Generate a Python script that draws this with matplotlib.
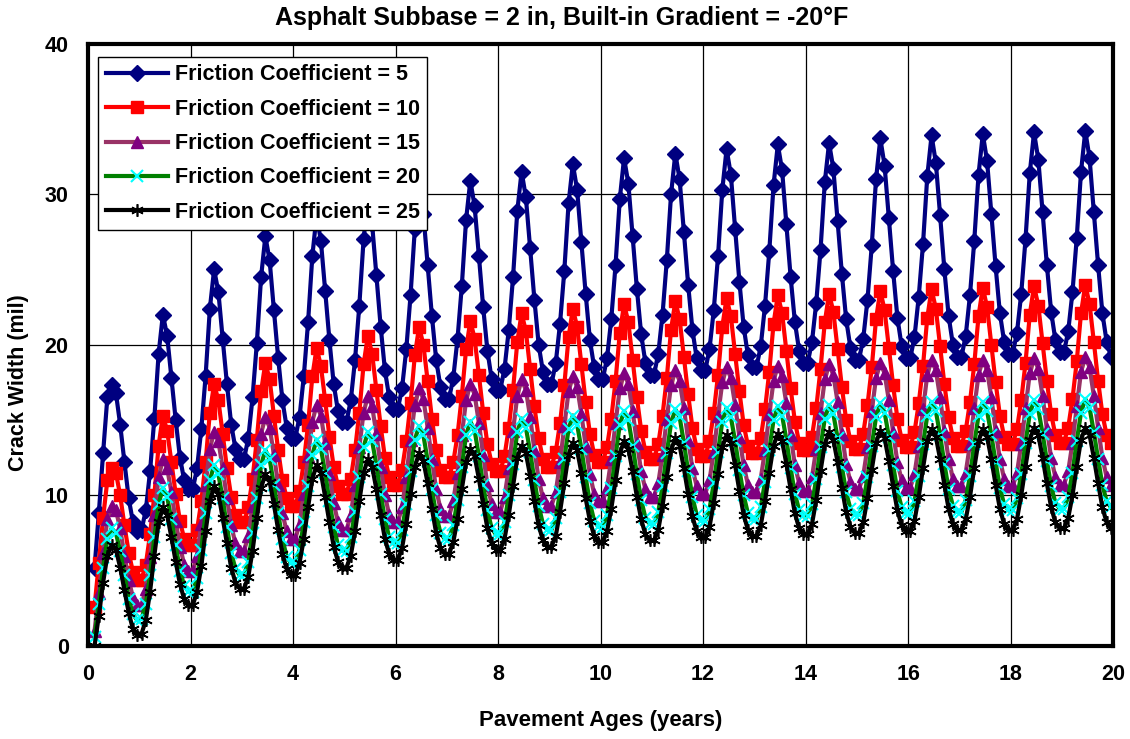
import numpy as np
import matplotlib
matplotlib.use('Agg')
import matplotlib.pyplot as plt

# monthly readings, one row per year (year 0 starts at the 2nd month)
fc5 = [
    [5.2, 8.8, 12.8, 16.5, 17.3, 16.8, 14.7, 12.2, 9.8, 8.2, 7.6],
    [7.7, 9.0, 11.6, 15.1, 19.4, 22.0, 20.6, 17.8, 15.0, 12.5, 11.0, 10.4],
    [10.4, 11.8, 14.4, 17.9, 22.4, 25.0, 23.5, 20.4, 17.4, 14.7, 13.1, 12.4],
    [12.4, 13.8, 16.5, 20.1, 24.5, 27.2, 25.6, 22.3, 19.1, 16.3, 14.5, 13.8],
    [13.8, 15.2, 17.9, 21.5, 25.9, 28.6, 26.9, 23.6, 20.3, 17.4, 15.6, 14.9],
    [14.9, 16.3, 19.0, 22.6, 27.0, 29.7, 28.0, 24.6, 21.2, 18.3, 16.5, 15.7],
    [15.7, 17.1, 19.7, 23.3, 27.7, 30.4, 28.7, 25.3, 21.9, 19.0, 17.2, 16.4],
    [16.4, 17.8, 20.4, 23.9, 28.3, 30.9, 29.2, 25.9, 22.5, 19.6, 17.7, 17.0],
    [17.0, 18.4, 21.0, 24.5, 28.9, 31.5, 29.8, 26.4, 23.0, 20.0, 18.2, 17.4],
    [17.4, 18.8, 21.4, 24.9, 29.4, 32.0, 30.3, 26.8, 23.4, 20.3, 18.5, 17.7],
    [17.7, 19.1, 21.7, 25.3, 29.7, 32.4, 30.7, 27.2, 23.7, 20.7, 18.8, 18.0],
    [18.0, 19.4, 22.0, 25.6, 30.0, 32.7, 31.0, 27.5, 24.0, 21.0, 19.1, 18.3],
    [18.3, 19.7, 22.3, 25.9, 30.3, 33.0, 31.3, 27.7, 24.2, 21.2, 19.3, 18.5],
    [18.5, 19.9, 22.6, 26.2, 30.6, 33.3, 31.6, 28.0, 24.5, 21.5, 19.6, 18.8],
    [18.8, 20.2, 22.8, 26.3, 30.8, 33.4, 31.7, 28.2, 24.7, 21.7, 19.8, 19.0],
    [19.0, 20.4, 23.0, 26.6, 31.0, 33.7, 31.9, 28.4, 24.9, 21.8, 19.9, 19.1],
    [19.1, 20.5, 23.2, 26.7, 31.2, 33.9, 32.1, 28.6, 25.0, 21.9, 20.0, 19.2],
    [19.2, 20.6, 23.3, 26.9, 31.3, 34.0, 32.2, 28.7, 25.2, 22.1, 20.2, 19.4],
    [19.4, 20.8, 23.4, 27.0, 31.4, 34.1, 32.3, 28.8, 25.3, 22.2, 20.3, 19.5],
    [19.5, 20.9, 23.5, 27.1, 31.5, 34.2, 32.4, 28.8, 25.3, 22.1, 20.2, 19.2],
]
fc10 = [
    [2.6, 5.5, 8.5, 11.0, 11.8, 11.5, 10.0, 8.0, 6.2, 4.9, 4.4],
    [4.4, 5.4, 7.4, 10.0, 13.3, 15.3, 14.3, 12.2, 10.1, 8.3, 7.1, 6.7],
    [6.7, 7.7, 9.6, 12.2, 15.5, 17.4, 16.3, 14.1, 11.8, 9.9, 8.7, 8.2],
    [8.2, 9.2, 11.1, 13.7, 16.9, 18.8, 17.7, 15.3, 13.0, 11.0, 9.8, 9.3],
    [9.3, 10.3, 12.2, 14.7, 17.9, 19.8, 18.6, 16.3, 13.9, 11.9, 10.6, 10.1],
    [10.1, 11.1, 13.0, 15.5, 18.7, 20.6, 19.4, 17.0, 14.6, 12.5, 11.2, 10.7],
    [10.7, 11.7, 13.6, 16.1, 19.3, 21.2, 20.0, 17.6, 15.1, 13.0, 11.7, 11.2],
    [11.2, 12.2, 14.0, 16.6, 19.7, 21.6, 20.4, 18.0, 15.5, 13.4, 12.1, 11.6],
    [11.6, 12.6, 14.5, 17.0, 20.2, 22.1, 20.9, 18.4, 15.9, 13.8, 12.4, 11.9],
    [11.9, 12.9, 14.8, 17.3, 20.5, 22.4, 21.2, 18.7, 16.2, 14.1, 12.7, 12.2],
    [12.2, 13.2, 15.1, 17.6, 20.8, 22.7, 21.5, 19.0, 16.5, 14.3, 12.9, 12.4],
    [12.4, 13.4, 15.3, 17.8, 21.0, 22.9, 21.7, 19.2, 16.7, 14.5, 13.1, 12.6],
    [12.6, 13.6, 15.5, 18.0, 21.2, 23.1, 21.9, 19.4, 16.9, 14.7, 13.3, 12.8],
    [12.8, 13.8, 15.7, 18.2, 21.4, 23.3, 22.1, 19.6, 17.1, 14.9, 13.5, 13.0],
    [13.0, 13.9, 15.8, 18.4, 21.5, 23.4, 22.2, 19.7, 17.2, 15.0, 13.6, 13.1],
    [13.1, 14.1, 16.0, 18.5, 21.7, 23.6, 22.3, 19.8, 17.3, 15.1, 13.7, 13.2],
    [13.2, 14.2, 16.1, 18.6, 21.8, 23.7, 22.4, 19.9, 17.4, 15.2, 13.8, 13.3],
    [13.3, 14.3, 16.2, 18.7, 21.9, 23.8, 22.5, 20.0, 17.5, 15.3, 13.9, 13.4],
    [13.4, 14.4, 16.3, 18.8, 22.0, 23.9, 22.6, 20.1, 17.6, 15.4, 14.0, 13.5],
    [13.5, 14.5, 16.4, 18.9, 22.1, 24.0, 22.7, 20.2, 17.6, 15.4, 14.0, 13.5],
]
fc15 = [
    [1.0, 3.5, 6.2, 8.4, 9.3, 9.0, 7.8, 6.0, 4.4, 3.2, 2.7],
    [2.7, 3.8, 5.9, 8.7, 11.2, 12.4, 11.8, 10.2, 8.3, 6.6, 5.4, 5.0],
    [5.0, 6.0, 8.1, 10.7, 13.1, 14.2, 13.6, 11.8, 9.8, 8.0, 6.8, 6.3],
    [6.3, 7.3, 9.3, 11.8, 14.1, 15.2, 14.5, 12.7, 10.7, 8.8, 7.6, 7.1],
    [7.1, 8.1, 10.1, 12.6, 14.9, 16.0, 15.3, 13.5, 11.4, 9.5, 8.2, 7.7],
    [7.7, 8.7, 10.7, 13.2, 15.5, 16.6, 15.9, 14.1, 11.9, 10.0, 8.7, 8.2],
    [8.2, 9.2, 11.2, 13.7, 16.0, 17.1, 16.4, 14.5, 12.4, 10.4, 9.1, 8.6],
    [8.6, 9.6, 11.5, 14.0, 16.3, 17.4, 16.7, 14.8, 12.7, 10.7, 9.4, 8.9],
    [8.9, 9.9, 11.8, 14.3, 16.6, 17.7, 17.0, 15.2, 13.0, 11.1, 9.8, 9.3],
    [9.3, 10.2, 12.2, 14.6, 16.9, 17.9, 17.2, 15.4, 13.3, 11.4, 10.1, 9.6],
    [9.6, 10.5, 12.4, 14.8, 17.1, 18.1, 17.4, 15.6, 13.5, 11.6, 10.4, 9.9],
    [9.9, 10.8, 12.7, 15.1, 17.3, 18.3, 17.6, 15.8, 13.7, 11.8, 10.6, 10.1],
    [10.1, 11.0, 12.9, 15.3, 17.5, 18.5, 17.8, 16.0, 13.9, 12.0, 10.7, 10.2],
    [10.2, 11.1, 13.0, 15.4, 17.6, 18.6, 17.9, 16.1, 14.0, 12.0, 10.8, 10.3],
    [10.3, 11.2, 13.1, 15.5, 17.7, 18.7, 18.0, 16.2, 14.1, 12.1, 10.9, 10.4],
    [10.4, 11.3, 13.2, 15.6, 17.8, 18.8, 18.1, 16.3, 14.2, 12.2, 11.0, 10.5],
    [10.5, 11.4, 13.3, 15.7, 18.0, 19.0, 18.3, 16.5, 14.3, 12.4, 11.1, 10.6],
    [10.6, 11.5, 13.4, 15.8, 18.0, 19.0, 18.3, 16.5, 14.3, 12.4, 11.1, 10.6],
    [10.6, 11.5, 13.4, 15.8, 18.1, 19.1, 18.4, 16.6, 14.4, 12.5, 11.2, 10.7],
    [10.7, 11.6, 13.5, 15.9, 18.2, 19.2, 18.5, 16.6, 14.5, 12.5, 11.2, 10.7],
]
fc20 = [
    [0.6, 2.8, 5.2, 7.1, 7.8, 7.5, 6.3, 4.7, 3.1, 2.1, 1.7],
    [1.8, 2.8, 4.7, 7.2, 9.4, 10.5, 9.9, 8.4, 6.7, 5.0, 4.0, 3.6],
    [3.6, 4.5, 6.4, 8.8, 11.0, 12.0, 11.4, 9.8, 7.9, 6.2, 5.1, 4.7],
    [4.7, 5.6, 7.5, 9.8, 12.0, 13.0, 12.4, 10.7, 8.8, 7.1, 5.9, 5.5],
    [5.5, 6.4, 8.2, 10.6, 12.7, 13.7, 13.1, 11.5, 9.6, 7.9, 6.7, 6.3],
    [6.3, 7.2, 8.9, 11.2, 13.2, 14.2, 13.6, 12.0, 10.1, 8.4, 7.2, 6.8],
    [6.8, 7.7, 9.4, 11.6, 13.7, 14.6, 14.0, 12.3, 10.4, 8.7, 7.5, 7.1],
    [7.1, 8.0, 9.7, 11.9, 14.0, 14.9, 14.3, 12.6, 10.7, 9.0, 7.8, 7.4],
    [7.4, 8.2, 10.0, 12.1, 14.2, 15.1, 14.5, 12.9, 11.0, 9.3, 8.1, 7.7],
    [7.7, 8.5, 10.2, 12.4, 14.4, 15.3, 14.7, 13.1, 11.2, 9.5, 8.3, 7.9],
    [7.9, 8.7, 10.5, 12.6, 14.7, 15.6, 15.0, 13.3, 11.4, 9.7, 8.5, 8.1],
    [8.1, 8.9, 10.6, 12.8, 14.8, 15.7, 15.2, 13.5, 11.6, 9.9, 8.7, 8.3],
    [8.3, 9.1, 10.8, 12.9, 14.9, 15.8, 15.2, 13.6, 11.7, 10.0, 8.8, 8.4],
    [8.4, 9.2, 10.9, 13.0, 15.0, 15.9, 15.3, 13.7, 11.8, 10.1, 9.0, 8.6],
    [8.6, 9.4, 11.1, 13.2, 15.1, 16.0, 15.4, 13.8, 11.9, 10.2, 9.1, 8.7],
    [8.7, 9.5, 11.2, 13.3, 15.2, 16.1, 15.5, 13.9, 12.0, 10.3, 9.2, 8.8],
    [8.8, 9.6, 11.3, 13.4, 15.3, 16.2, 15.6, 14.0, 12.1, 10.4, 9.3, 8.9],
    [8.9, 9.7, 11.3, 13.4, 15.3, 16.2, 15.6, 14.0, 12.2, 10.5, 9.4, 9.0],
    [9.0, 9.8, 11.4, 13.5, 15.4, 16.3, 15.7, 14.1, 12.3, 10.6, 9.5, 9.1],
    [9.1, 9.9, 11.5, 13.6, 15.5, 16.4, 15.8, 14.2, 12.4, 10.7, 9.6, 9.2],
]
fc25 = [
    [0.0, 2.0, 4.2, 6.0, 6.7, 6.4, 5.2, 3.7, 2.2, 1.1, 0.7],
    [0.8, 1.7, 3.6, 6.0, 8.2, 9.2, 8.7, 7.2, 5.6, 4.1, 3.1, 2.7],
    [2.7, 3.6, 5.3, 7.6, 9.6, 10.6, 10.1, 8.5, 6.8, 5.2, 4.2, 3.8],
    [3.8, 4.6, 6.3, 8.5, 10.5, 11.4, 10.9, 9.4, 7.7, 6.1, 5.1, 4.7],
    [4.7, 5.5, 7.1, 9.2, 11.1, 12.0, 11.5, 9.9, 8.2, 6.6, 5.6, 5.2],
    [5.2, 6.0, 7.6, 9.6, 11.5, 12.4, 11.9, 10.4, 8.7, 7.1, 6.1, 5.7],
    [5.7, 6.5, 8.1, 10.1, 11.9, 12.8, 12.3, 10.8, 9.1, 7.5, 6.5, 6.1],
    [6.1, 6.9, 8.4, 10.4, 12.2, 13.1, 12.6, 11.1, 9.4, 7.8, 6.8, 6.4],
    [6.4, 7.1, 8.7, 10.6, 12.5, 13.3, 12.8, 11.3, 9.6, 8.0, 7.0, 6.6],
    [6.6, 7.3, 8.9, 10.8, 12.7, 13.5, 13.0, 11.5, 9.8, 8.3, 7.3, 6.9],
    [6.9, 7.6, 9.1, 11.0, 12.8, 13.6, 13.1, 11.6, 9.9, 8.4, 7.4, 7.0],
    [7.0, 7.7, 9.3, 11.2, 13.0, 13.8, 13.3, 11.8, 10.1, 8.6, 7.6, 7.2],
    [7.2, 7.9, 9.5, 11.4, 13.2, 14.0, 13.5, 12.0, 10.3, 8.7, 7.7, 7.3],
    [7.3, 8.0, 9.6, 11.5, 13.3, 14.1, 13.6, 12.1, 10.4, 8.8, 7.8, 7.4],
    [7.4, 8.1, 9.7, 11.6, 13.4, 14.2, 13.7, 12.2, 10.5, 8.9, 7.9, 7.5],
    [7.5, 8.2, 9.8, 11.7, 13.5, 14.3, 13.8, 12.3, 10.6, 9.0, 8.0, 7.6],
    [7.6, 8.3, 9.9, 11.8, 13.6, 14.4, 13.9, 12.4, 10.7, 9.1, 8.1, 7.7],
    [7.7, 8.4, 9.9, 11.8, 13.6, 14.4, 13.9, 12.4, 10.7, 9.1, 8.1, 7.7],
    [7.7, 8.4, 10.0, 11.9, 13.7, 14.5, 14.0, 12.5, 10.8, 9.2, 8.2, 7.8],
    [7.8, 8.5, 10.0, 11.9, 13.7, 14.5, 14.0, 12.5, 10.8, 9.2, 8.2, 7.8],
]

labels = ['Friction Coefficient = 5', 'Friction Coefficient = 10',
          'Friction Coefficient = 15', 'Friction Coefficient = 20',
          'Friction Coefficient = 25']

# sample times: mid-month, first year starts at the second month
ages = (np.arange(1, 240) + 0.5) / 12.0

plt.rcParams['font.family'] = ['Liberation Sans', 'DejaVu Sans']
plt.rcParams['font.weight'] = 'bold'

fig = plt.figure(figsize=(11.3, 7.39), dpi=100)
ax = fig.add_axes([0.078, 0.126, 0.907, 0.815])

styles = [
    dict(color='#000080', marker='D', ms=8, mfc='#000080', mec='#000080', lw=3),
    dict(color='#FF0000', marker='s', ms=9, mfc='#FF0000', mec='#FF0000', lw=3),
    dict(color='#993366', marker='^', ms=9, mfc='#800080', mec='#800080', lw=3),
    dict(color='#008000', marker='x', ms=8, mfc='#00FFFF', mec='#00FFFF', mew=1.5, lw=3),
    dict(color='#000000', marker=(6, 2, 0), ms=9, mec='#000000', mew=1.2, lw=3),
]

for data, lab, st in zip([fc5, fc10, fc15, fc20, fc25], labels, styles):
    y = np.concatenate([np.array(r) for r in data])
    ax.plot(ages, y, label=lab, **st)

ax.set_xlim(0, 20)
ax.set_ylim(0, 40)
ax.set_xticks(np.arange(0, 21, 2))
ax.set_yticks(np.arange(0, 41, 10))
ax.grid(True, color='black', linewidth=0.9)
ax.set_axisbelow(True)
ax.tick_params(length=0, labelsize=15.5)
ax.tick_params(axis='x', pad=13)
ax.tick_params(axis='y', pad=14)
for lab in ax.get_xticklabels() + ax.get_yticklabels():
    lab.set_fontweight('bold')
for sp in ax.spines.values():
    sp.set_linewidth(3)

ax.set_xlabel('Pavement Ages (years)', fontsize=16, fontweight='bold', labelpad=18)
ax.set_ylabel('Crack Width (mil)', fontsize=15.5, fontweight='bold')
ax.yaxis.set_label_coords(-0.058, 0.437)
# title is centred on the figure, not the plot area
fig.text(0.497, 0.975, 'Asphalt Subbase = 2 in, Built-in Gradient = -20°F',
         fontsize=18, fontweight='bold', ha='center', va='center')

leg = ax.legend(loc='upper left', bbox_to_anchor=(0.01, 0.978), fontsize=15.5,
                frameon=True, fancybox=False, edgecolor='black', framealpha=1,
                borderpad=0.35, labelspacing=0.62, handlelength=2.9,
                handletextpad=0.3, borderaxespad=0)
leg.get_frame().set_linewidth(1.0)
for t in leg.get_texts():
    t.set_fontweight('bold')

fig.savefig('out.png', dpi=100)
